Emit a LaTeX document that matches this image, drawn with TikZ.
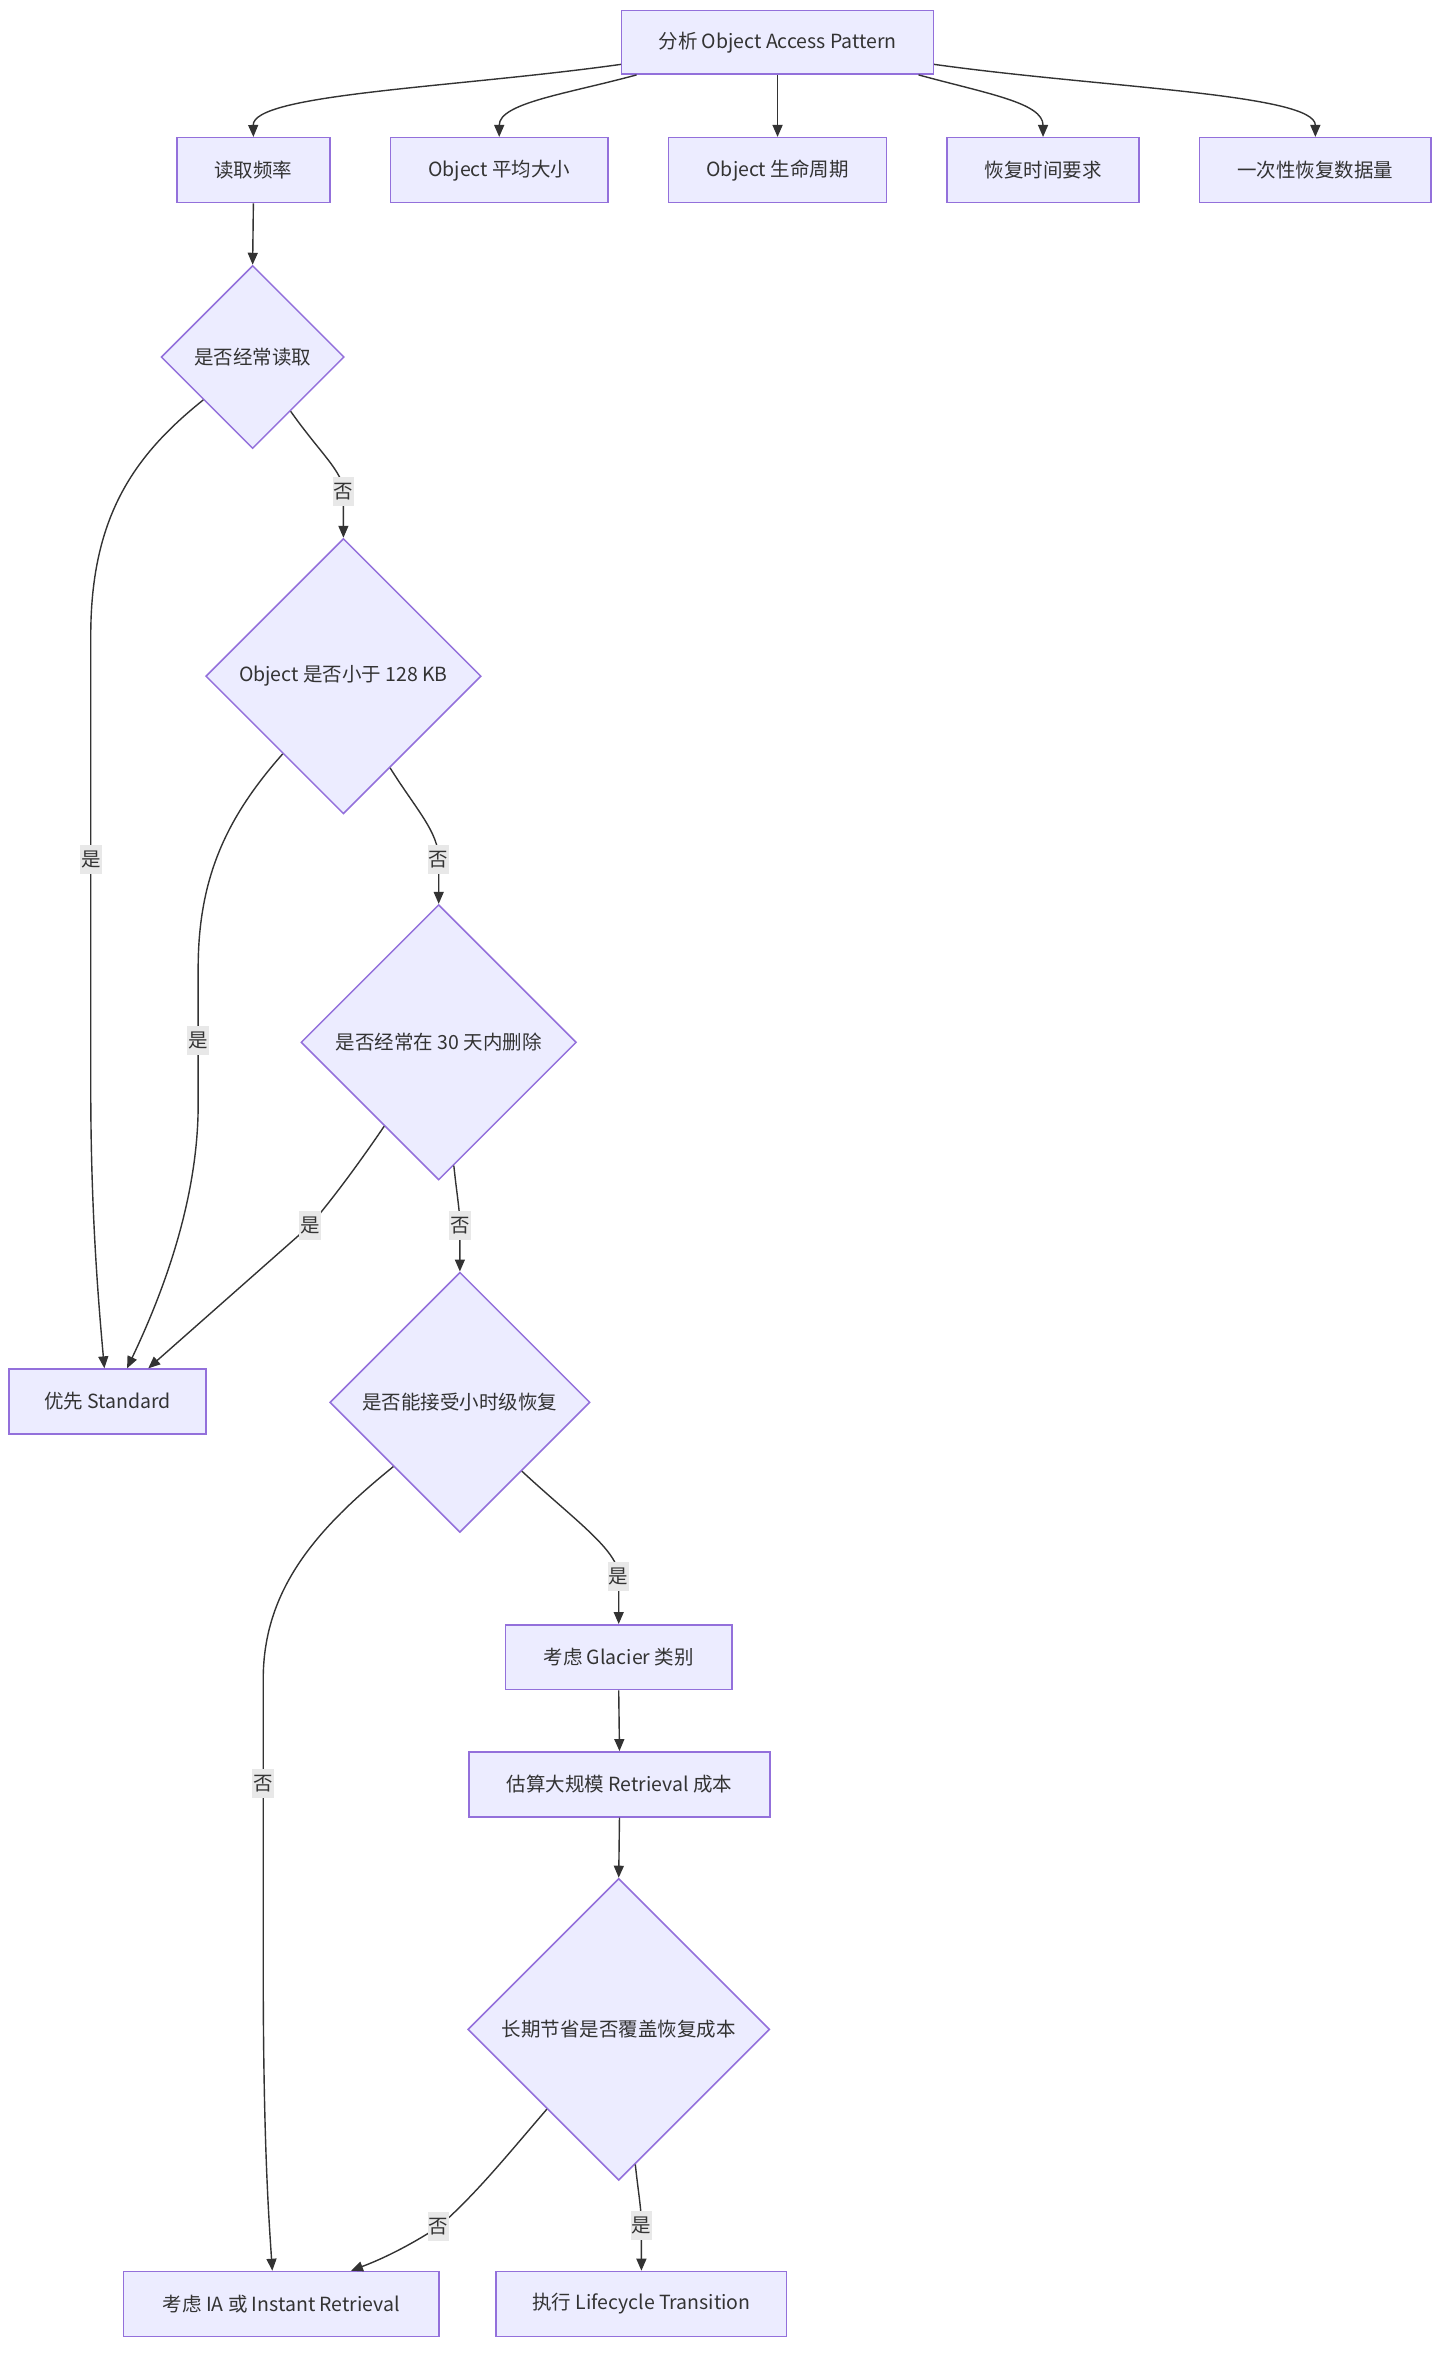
\documentclass[tikz,border=0pt]{standalone}
\usepackage{fontspec}
\setmainfont{Noto Sans CJK SC}
\usetikzlibrary{shapes.geometric,arrows.meta,calc}
\definecolor{nodefill}{HTML}{ECECFF}
\definecolor{nodeborder}{HTML}{9370DB}
\definecolor{linecol}{HTML}{333333}
\definecolor{textcol}{HTML}{333333}
\definecolor{lblfill}{HTML}{E8E8E8}
\newcommand{\dfont}{\fontsize{19.5}{23}\selectfont}
\begin{document}
\begin{tikzpicture}
[
	x=1.5135pt, y=-1.5135pt,
	procbox/.style={rectangle,draw=nodeborder,fill=nodefill,line width=1.5pt,minimum height=65pt,inner sep=0pt,text=textcol,font=\dfont},
	decbox/.style={diamond,aspect=1,draw=nodeborder,fill=nodefill,line width=1.5pt,inner sep=0pt,text=textcol,font=\dfont},
	edgelbl/.style={fill=lblfill,inner xsep=1pt,inner ysep=0pt,minimum height=29pt,text=textcol,font=\dfont},
	arr/.style={draw=linecol,line width=1.4pt,-{Triangle[length=12pt,width=10pt]}}
]

	\useasboundingbox (0,0) rectangle (962,1568);

	% first two rows
	\node[procbox,minimum width=311.8pt,minimum height=63.6pt] (top) at (514,28) {分析 Object Access Pattern};
	\node[procbox,minimum width=152.9pt] (rf) at (167.5,112.5) {读取频率};
	\node[procbox,minimum width=217.9pt] (os) at (330,112.5) {Object 平均大小};
	\node[procbox,minimum width=217.9pt] (lc) at (514,112.5) {Object 生命周期};
	\node[procbox,minimum width=192.2pt] (rt) at (689.5,112.5) {恢复时间要求};
	\node[procbox,minimum width=231.6pt] (dv) at (869.5,112.5) {一次性恢复数据量};

	% decisions
	\node[decbox,minimum size=183.1pt] (d1) at (167,236) {是否经常读取};
	\node[decbox,minimum size=275.5pt] (d2) at (227,447) {Object 是否小于 128 KB};
	\node[decbox,minimum size=275.5pt] (d3) at (290,689) {是否经常在 30 天内删除};
	\node[decbox,minimum size=260.3pt] (d4) at (304,927) {是否能接受小时级恢复};
	\node[decbox,minimum size=302pt] (d5) at (409,1341.5) {长期节省是否覆盖恢复成本};

	\node[procbox,minimum width=196.8pt] (std) at (71,926.5) {优先 Standard};
	\node[procbox,minimum width=227pt] (gl) at (409,1095.5) {考虑 Glacier 类别};
	\node[procbox,minimum width=301.2pt] (rv) at (409.5,1179.5) {估算大规模 Retrieval 成本};
	\node[procbox,minimum width=315.9pt] (ia) at (186,1523) {考虑 IA 或 Instant Retrieval};
	\node[procbox,minimum width=290.6pt] (lt) at (424,1523) {执行 Lifecycle Transition};

	\draw[arr] (top.188) .. controls (300,58) and (167,62) .. (rf.north);
	\draw[arr] (top.193) .. controls (375,62) and (330,68) .. (os.north);
	\draw[arr] (top.south) -- (lc.north);
	\draw[arr] (top.-13) .. controls (653,62) and (689.5,68) .. (rt.north);
	\draw[arr] (top.-8) .. controls (728,58) and (869.5,62) .. (dv.north);

	\draw[arr] (rf.south) -- (d1.north);
	\draw[arr] (d1.-55) .. controls (212,300) and (227,312) .. (227,325) node[edgelbl] {否} -- (d2.north);
	\draw[arr] (d1.221) .. controls (90,300) and (60,340) .. (60,420) -- (60,568) node[edgelbl] {是} -- (60,720) .. controls (60,800) and (65,860) .. ($(std.north)+(-2,0)$);
	\draw[arr] (d2.-63) .. controls (275,535) and (290,550) .. (290,568) node[edgelbl] {否} -- (d3.north);
	\draw[arr] (d2.232) .. controls (150,540) and (131,580) .. (131,640) -- (131,688) node[edgelbl] {是} -- (131,730) .. controls (131,790) and (110,850) .. ($(std.north)+(13,0)$);
	\draw[arr] (d3.237) .. controls (240,765) and (222,790) .. (205,810) node[edgelbl] {是} -- ($(std.north)+(27,0)$);
	\draw[arr] (d3.-83) .. controls (302,790) and (304,800) .. (304,810) node[edgelbl] {否} -- (d4.north);
	\draw[arr] (d4.-48) .. controls (380,1005) and (409,1025) .. (409,1042) node[edgelbl] {是} -- (gl.north);
	\draw[arr] (d4.-136) .. controls (210,1010) and (174,1050) .. (174,1110) -- (174,1179) node[edgelbl] {否} -- (174,1300) .. controls (174,1420) and (178,1470) .. ($(ia.north)+(-6,0)$);
	\draw[arr] (gl.south) -- (rv.north);
	\draw[arr] (rv.south) -- (d5.north);
	\draw[arr] (d5.-132) .. controls (335,1425) and (315,1450) .. (290,1472) node[edgelbl] {否} .. controls (265,1488) and (248,1495) .. ($(ia.north)+(46,0)$);
	\draw[arr] (d5.-83) .. controls (422,1450) and (424,1460) .. (424,1471) node[edgelbl] {是} -- (lt.north);

\end{tikzpicture}
\end{document}
